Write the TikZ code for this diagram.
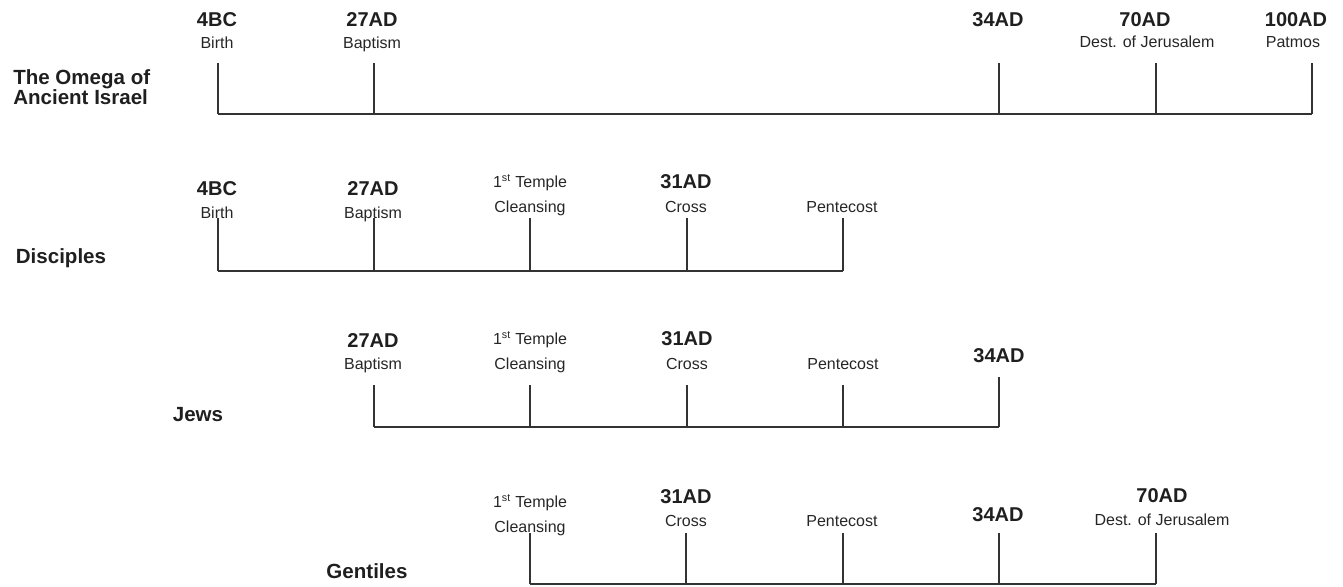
\documentclass[tikz,border=0pt]{standalone}
\usepackage{fontspec}
\setmainfont{Liberation Sans}
\begin{document}
\begin{tikzpicture}[x=0.75pt,y=-0.75pt,
  date/.style={font=\fontsize{15}{18}\selectfont\bfseries, text=black!88, inner sep=0pt, text height=10.7pt, text depth=0pt},
  sub/.style={font=\fontsize{12}{14}\selectfont, text=black!85, inner sep=0pt, text height=8.6pt, text depth=0pt},
  group/.style={font=\fontsize{15.4}{15}\selectfont\bfseries, text=black!88, inner sep=0pt},
  tl/.style={draw=black!80, line width=0.8pt}]
\useasboundingbox (0,0) rectangle (1343,586);

% ---------- Row 1: The Omega of Ancient Israel ----------
\node[group, align=left, anchor=west] (g1) at (13,87) {The Omega of\\Ancient Israel};
\node[date] (r1d1) at (217,19) {4BC};
\node[sub]  (r1s1) at (217,43) {Birth};
\node[date] (r1d2) at (372,19) {27AD};
\node[sub]  (r1s2) at (372,43) {Baptism};
\node[date] (r1d3) at (998,19) {34AD};
\node[date] (r1d4) at (1145,19) {70AD};
\node[sub]  (r1s4) at (1147,42) {Dest. of Jerusalem};
\node[date] (r1d5) at (1296,19) {100AD};
\node[sub]  (r1s5) at (1293,42) {Patmos};
\foreach \i/\x in {1/218,2/374,3/999,4/1156,5/1312}{
  \coordinate (r1t\i) at (\x,63);
  \coordinate (r1b\i) at (\x,114);
}
\draw[tl] (r1b1) -- (r1b5);
\foreach \i in {1,...,5}{ \draw[tl] (r1t\i) -- (r1b\i); }

% ---------- Row 2: Disciples ----------
\node[group] (g2) at (61,258) {Disciples};
\node[date] (r2d1) at (217,188) {4BC};
\node[sub]  (r2s1) at (217,213) {Birth};
\node[date] (r2d2) at (373,188) {27AD};
\node[sub]  (r2s2) at (373,213) {Baptism};
\node[sub]  (r2d3) at (530,182) {1\textsuperscript{st} Temple};
\node[sub]  (r2s3) at (530,207) {Cleansing};
\node[date] (r2d4) at (686,181) {31AD};
\node[sub]  (r2s4) at (686,207) {Cross};
\node[sub]  (r2s5) at (842,207) {Pentecost};
\foreach \i/\x in {1/218,2/374,3/530,4/687,5/843}{
  \coordinate (r2t\i) at (\x,218);
  \coordinate (r2b\i) at (\x,271);
}
\draw[tl] (r2b1) -- (r2b5);
\foreach \i in {1,...,5}{ \draw[tl] (r2t\i) -- (r2b\i); }

% ---------- Row 3: Jews ----------
\node[group] (g3) at (198,415) {Jews};
\node[date] (r3d1) at (373,340) {27AD};
\node[sub]  (r3s1) at (373,364) {Baptism};
\node[sub]  (r3d2) at (530,339) {1\textsuperscript{st} Temple};
\node[sub]  (r3s2) at (530,364) {Cleansing};
\node[date] (r3d3) at (687,338) {31AD};
\node[sub]  (r3s3) at (687,364) {Cross};
\node[sub]  (r3s4) at (843,364) {Pentecost};
\node[date] (r3d5) at (999,355) {34AD};
\foreach \i/\x/\t in {1/374/385,2/530/385,3/687/385,4/843/385,5/999/377}{
  \coordinate (r3t\i) at (\x,\t);
  \coordinate (r3b\i) at (\x,427);
}
\draw[tl] (r3b1) -- (r3b5);
\foreach \i in {1,...,5}{ \draw[tl] (r3t\i) -- (r3b\i); }

% ---------- Row 4: Gentiles ----------
\node[group] (g4) at (367,571) {Gentiles};
\node[sub]  (r4d1) at (530,502) {1\textsuperscript{st} Temple};
\node[sub]  (r4s1) at (530,527) {Cleansing};
\node[date] (r4d2) at (686,496) {31AD};
\node[sub]  (r4s2) at (686,521) {Cross};
\node[sub]  (r4s3) at (842,521) {Pentecost};
\node[date] (r4d4) at (998,514) {34AD};
\node[date] (r4d5) at (1162,495) {70AD};
\node[sub]  (r4s5) at (1162,520) {Dest. of Jerusalem};
\foreach \i/\x in {1/530,2/686,3/843,4/999,5/1156}{
  \coordinate (r4t\i) at (\x,533);
  \coordinate (r4b\i) at (\x,584);
}
\draw[tl] (r4b1) -- (r4b5);
\foreach \i in {1,...,5}{ \draw[tl] (r4t\i) -- (r4b\i); }
\end{tikzpicture}
\end{document}
